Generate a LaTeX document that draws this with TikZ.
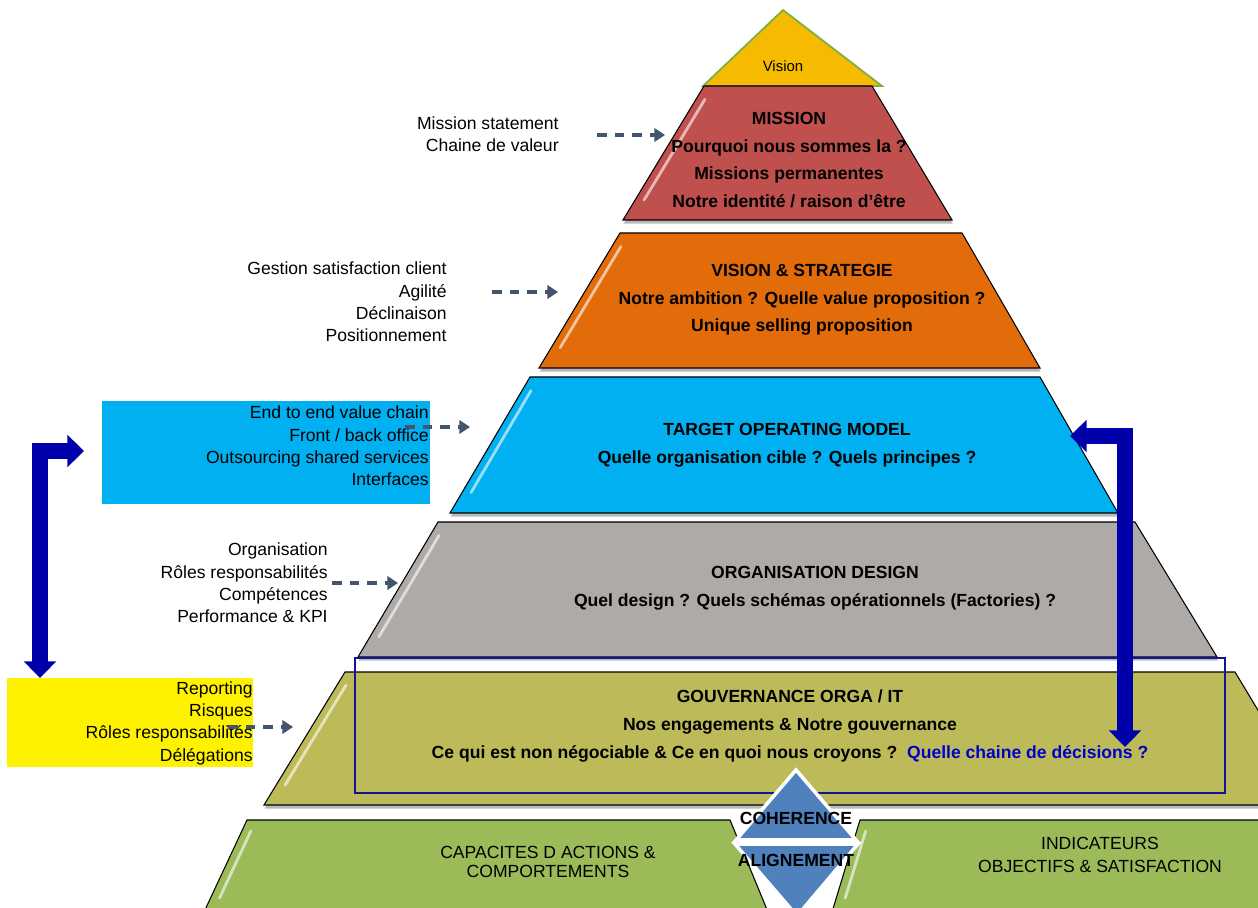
\documentclass[tikz,border=0pt]{standalone}
\usepackage{fontspec}
\setmainfont{Liberation Sans}
\usepackage{tikz}
\usetikzlibrary{arrows.meta,
                calc,
                positioning,
                shadows}

\definecolor{visioncol}{RGB}{246,186,0}
\definecolor{visionline}{RGB}{120,176,70}
\definecolor{missioncol}{RGB}{192,80,77}
\definecolor{stratcol}{RGB}{227,108,10}
\definecolor{tomcol}{RGB}{0,176,240}
\definecolor{designcol}{RGB}{173,170,168}
\definecolor{govcol}{RGB}{189,187,89}
\definecolor{basecol}{RGB}{155,187,89}
\definecolor{diamcol}{RGB}{79,129,189}
\definecolor{arrowblue}{RGB}{0,0,170}
\definecolor{dashcol}{RGB}{68,84,106}
\definecolor{textblue}{RGB}{0,0,200}
\definecolor{frameblue}{RGB}{20,20,150}

\begin{document}
\begin{tikzpicture}[
				x=0.02cm, y=-0.02cm,
				tier/.style={draw=black, line width=0.6pt,
					drop shadow={shadow xshift=0.4pt, shadow yshift=-2pt, opacity=0.55}},
				gloss/.style={white, line width=1.6pt, opacity=0.6, line cap=round},
				tier text/.style={align=center, inner sep=0pt, font=\fontsize{10}{15.7}\selectfont\bfseries},
				note/.style={align=right, inner sep=0pt, anchor=east, font=\fontsize{10}{12.7}\selectfont},
				base text/.style={align=center, inner sep=0pt, font=\fontsize{10}{11.3}\selectfont},
				diam text/.style={inner sep=0pt, font=\fontsize{10}{12}\selectfont\bfseries},
				link/.style={dashcol, line width=1.8pt, dash pattern=on 5.5pt off 4.5pt,
					-{Triangle[length=6pt, width=7.5pt]}},
				big arrow/.style={arrowblue, line width=9pt,
					{Triangle[length=9.5pt, width=18pt]}-{Triangle[length=9.5pt, width=18pt]}}
				]
		\clip (0,0) rectangle (1258,908);

		% pyramid
		\draw[draw=visionline, line width=1pt, fill=visioncol] (783,10) -- (882,86) -- (703,86) -- cycle;
		\node[inner sep=0pt, font=\fontsize{8.5}{10}\selectfont] (vision) at (783,66) {Vision};

		\draw[tier, fill=missioncol] (704,86) coordinate (mis-tl) -- (872,86) -- (952,220) -- (623,220) coordinate (mis-bl) -- cycle;
		\draw[gloss] ($(mis-tl)!.1!(mis-bl)+(9,0)$) -- ($(mis-tl)!.85!(mis-bl)+(9,0)$);
		\node[tier text] (mission) at (789,160) {MISSION\\Pourquoi nous sommes la ?\\Missions permanentes\\Notre identit\'e / raison d'\^etre};

		\draw[tier, fill=stratcol] (620,233) coordinate (str-tl) -- (962,233) -- (1040,368) -- (539,368) coordinate (str-bl) -- cycle;
		\draw[gloss] ($(str-tl)!.1!(str-bl)+(9,0)$) -- ($(str-tl)!.85!(str-bl)+(9,0)$);
		\node[tier text] (strategy) at (802,300) {VISION \& STRATEGIE\\Notre ambition ? Quelle value proposition ?\\Unique selling proposition};

		\draw[tier, fill=tomcol] (530,377) coordinate (tom-tl) -- (1040,377) -- (1118,513) -- (450,513) coordinate (tom-bl) -- cycle;
		\draw[gloss] ($(tom-tl)!.1!(tom-bl)+(9,0)$) -- ($(tom-tl)!.85!(tom-bl)+(9,0)$);
		\node[tier text] (tom) at (787,445) {TARGET OPERATING MODEL\\Quelle organisation cible ? Quels principes ?};

		\draw[tier, fill=designcol] (438,522) coordinate (des-tl) -- (1135,522) -- (1217,657) -- (358,657) coordinate (des-bl) -- cycle;
		\draw[gloss] ($(des-tl)!.1!(des-bl)+(9,0)$) -- ($(des-tl)!.85!(des-bl)+(9,0)$);
		\node[tier text] (design) at (815,588) {ORGANISATION DESIGN\\Quel design ? Quels sch\'emas op\'erationnels (Factories) ?};

		\draw[tier, fill=govcol] (345,672) coordinate (gov-tl) -- (1235,672) -- (1315,805) -- (264,805) coordinate (gov-bl) -- cycle;
		\draw[gloss] ($(gov-tl)!.1!(gov-bl)+(9,0)$) -- ($(gov-tl)!.85!(gov-bl)+(9,0)$);
		\draw[frameblue, line width=0.8pt] (355,658) rectangle (1225,793);
		\node[tier text] (gov) at (790,726) {GOUVERNANCE ORGA / IT\\Nos engagements \& Notre gouvernance\\Ce qui est non n\'egociable \& Ce en quoi nous croyons ?\ \ {\color{textblue}Quelle chaine de d\'ecisions ?}};

		% base
		\draw[tier, fill=basecol] (247,820) coordinate (cap-tl) -- (730,820) -- (768,912) -- (204,912) coordinate (cap-bl) -- cycle;
		\draw[gloss] ($(cap-tl)!.12!(cap-bl)+(9,0)$) -- ($(cap-tl)!.85!(cap-bl)+(9,0)$);
		\node[base text] (capa) at (548,862) {CAPACITES D ACTIONS \&\\COMPORTEMENTS};

		\draw[tier, fill=basecol] (860,820) coordinate (ind-tl) -- (1300,820) -- (1300,912) -- (832,912) coordinate (ind-bl) -- cycle;
		\draw[gloss] ($(ind-tl)!.12!(ind-bl)+(9,0)$) -- ($(ind-tl)!.85!(ind-bl)+(9,0)$);
		\node[base text, font=\fontsize{10}{13}\selectfont] (indic) at (1100,855) {INDICATEURS\\OBJECTIFS \& SATISFACTION};

		\draw[white, line width=2pt, fill=diamcol] (796,770) -- (856,840) -- (736,840) -- cycle;
		\draw[white, line width=2pt, fill=diamcol] (735,844) -- (858,844) -- (797,916) -- cycle;
		\node[diam text] (coh) at (796,818) {COHERENCE};
		\node[diam text, below=0.58cm of coh] (ali) {ALIGNEMENT};

		% side notes
		\fill[tomcol] (102,401) rectangle (430,504);
		\fill[yellow] (7,678) rectangle (253,767);
		\node[note] (misnote) at (559,134) {Mission statement\\Chaine de valeur};
		\node[note] (strnote) at (447,302) {Gestion satisfaction client\\Agilit\'e\\D\'eclinaison\\Positionnement};
		\node[note] (tomnote) at (429,446) {End to end value chain\\Front / back office\\Outsourcing shared services\\Interfaces};
		\node[note] (desnote) at (328,583) {Organisation\\R\^oles responsabilit\'es\\Comp\'etences\\Performance \& KPI};
		\node[note] (govnote) at (253,723) {Reporting\\Risques\\R\^oles responsabilit\'es\\D\'el\'egations};

		% dashed links
		\coordinate (mis-from) at (597,135);  \coordinate (mis-to) at (665,135);
		\coordinate (str-from) at (492,292);  \coordinate (str-to) at (558,292);
		\coordinate (tom-from) at (405,427);  \coordinate (tom-to) at (470,427);
		\coordinate (des-from) at (332,583);  \coordinate (des-to) at (398,583);
		\coordinate (gov-from) at (228,727);  \coordinate (gov-to) at (293,727);
		\draw[link] (mis-from) -- (mis-to);
		\draw[link] (str-from) -- (str-to);
		\draw[link] (tom-from) -- (tom-to);
		\draw[link] (des-from) -- (des-to);
		\draw[link] (gov-from) -- (gov-to);

		% feedback arrows
		\coordinate (left-down) at (40,678);   \coordinate (left-right) at (84,451);
		\coordinate (right-left) at (1070,436); \coordinate (right-down) at (1125,747);
		\draw[big arrow] (left-down) |- (left-right);
		\draw[big arrow] (right-left) -| (right-down);
\end{tikzpicture}
\end{document}
